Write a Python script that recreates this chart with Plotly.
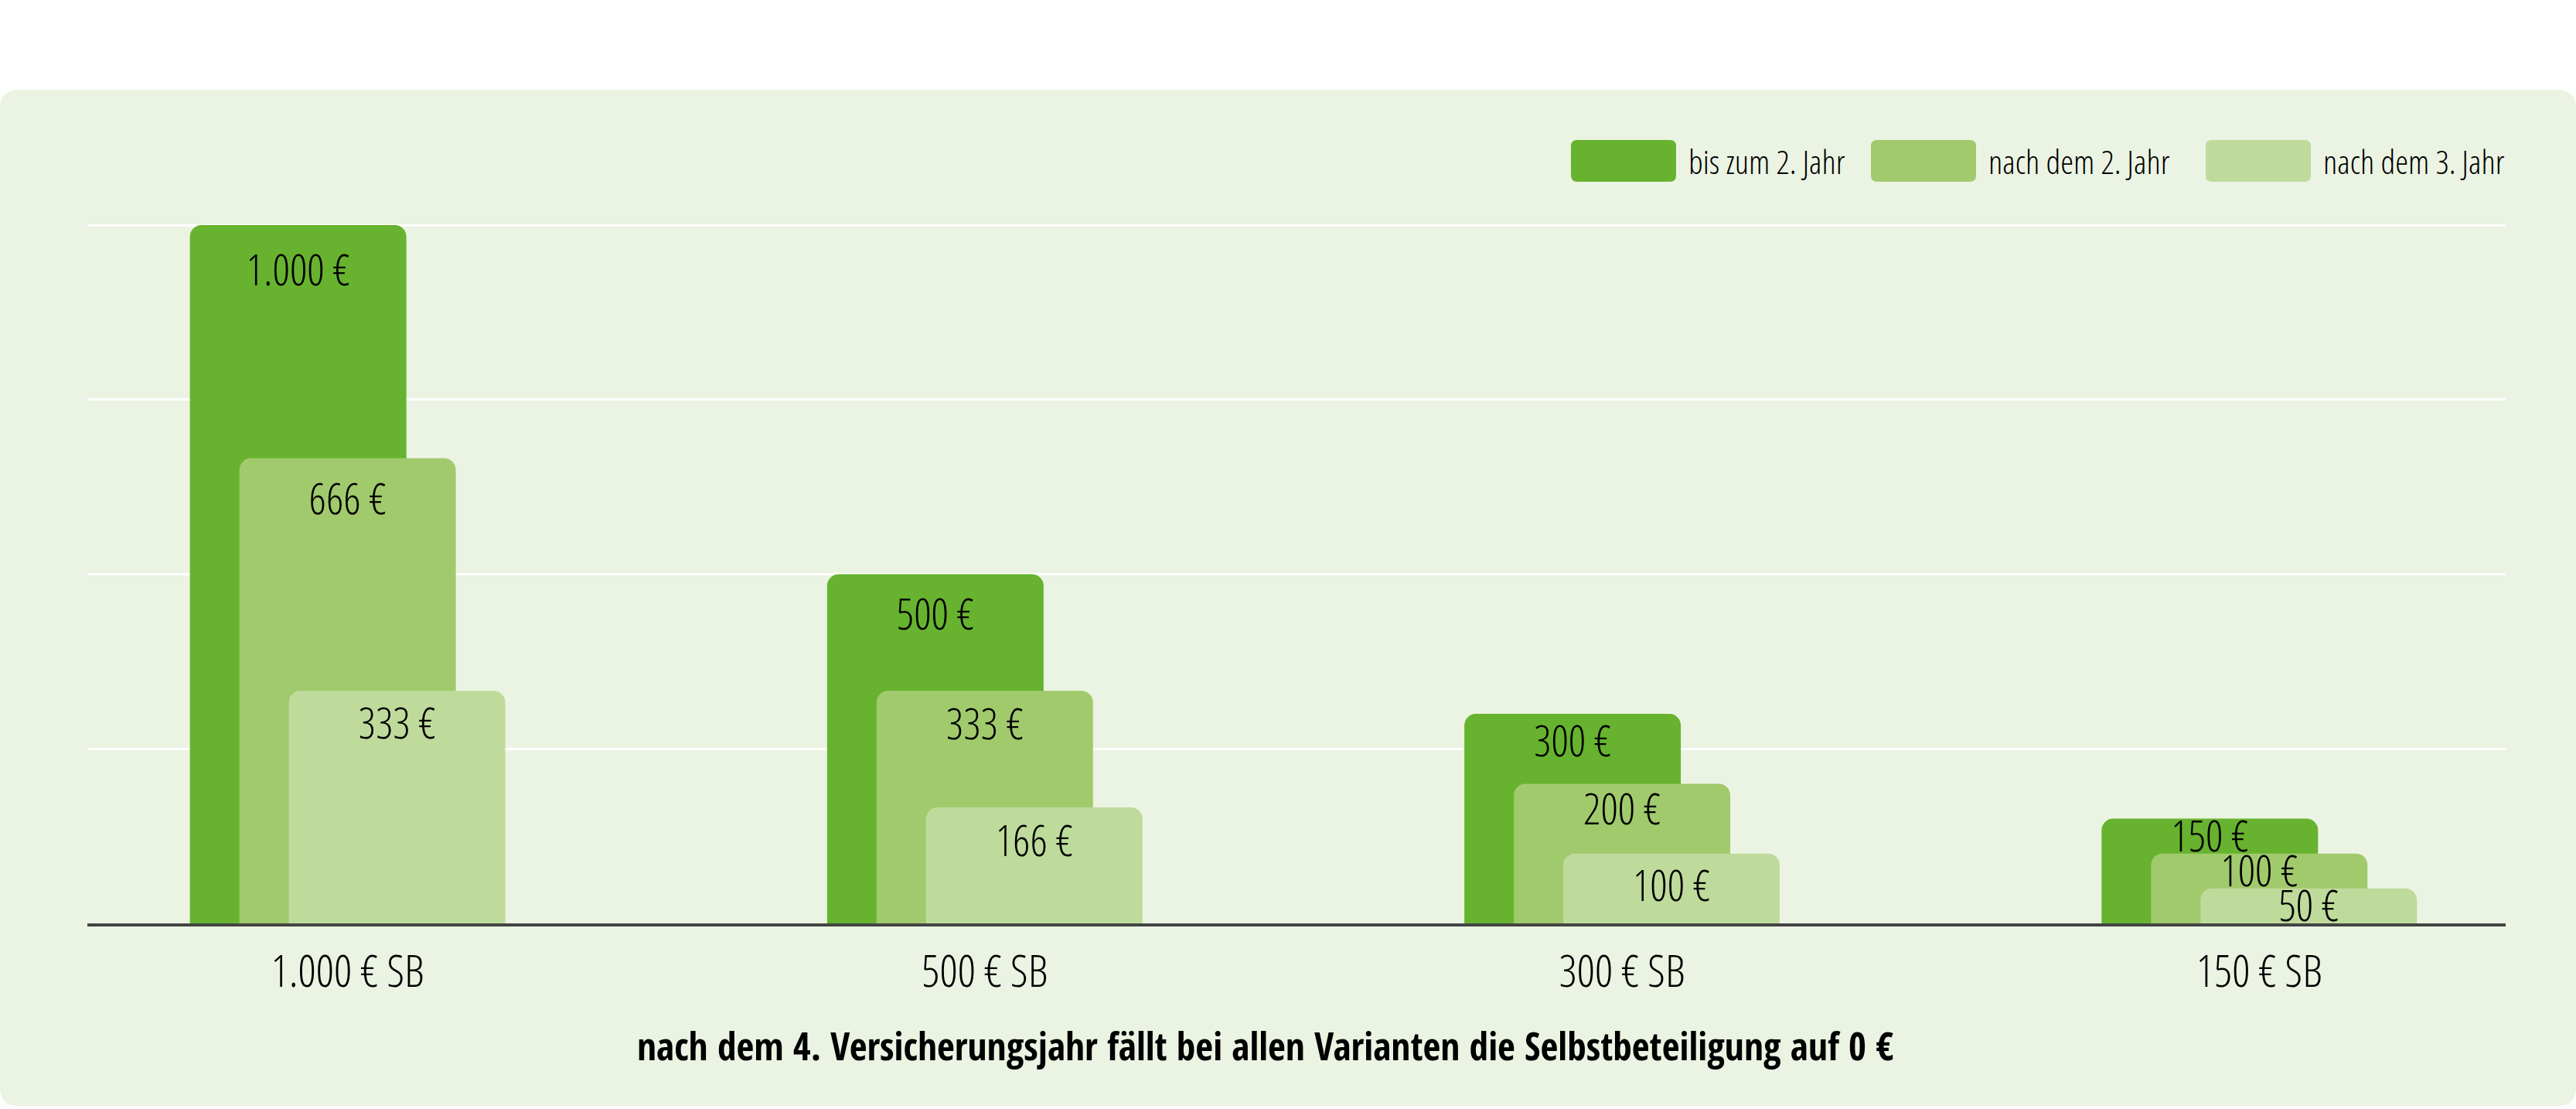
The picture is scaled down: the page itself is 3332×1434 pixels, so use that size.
import plotly.graph_objects as go

# ---------------- data ----------------
categories = ["1.000 € SB", "500 € SB", "300 € SB", "150 € SB"]
series_names = ["bis zum 2. Jahr", "nach dem 2. Jahr", "nach dem 3. Jahr"]
values_bis_2_jahr = [1000, 500, 300, 150]
values_nach_2_jahr = [666, 333, 200, 100]
values_nach_3_jahr = [333, 166, 100, 50]
footnote = "nach dem 4. Versicherungsjahr fällt bei allen Varianten die Selbstbeteiligung auf 0 €"

series_values = [values_bis_2_jahr, values_nach_2_jahr, values_nach_3_jahr]

# ---------------- style / layout ----------------
W, H = 3332, 1434
PLOT_L, PLOT_R = 113, 3241
PLOT_T, PLOT_B = 282, 1194
Y_MAX = 1010
X_RANGE = [-0.4084, 3.3866]
BAR_W = 0.3397
STEP = 0.0776
FIRST_OFFSET = -0.2475
COLORS = ["#67b32f", "#a1ca6d", "#bedb9c"]
PANEL = "#ebf4e3"
FONT_LIGHT = "Open Sans Condensed Light, Roboto Condensed, sans-serif"
FONT_BOLD = "Open Sans Condensed, Roboto Condensed, sans-serif"
LABEL_FS = 56
TICK_FS = 58
LEGEND_FS = 43
FOOT_FS = 49.5
# how far (px) each value label sits below the top of its bar
LABEL_DROP_PX = [[38, 31, 15, 1], [32, 23, 13, 1], [22, 23, 21, 3]]


def fmt_eur(v):
    return f"{v:,}".replace(",", ".") + " €"


def pxx(px):
    return (px - PLOT_L) / (PLOT_R - PLOT_L)


def pxy(py):
    return (PLOT_B - py) / (PLOT_B - PLOT_T)


def rrect(x0, y0, x1, y1, r):
    """rounded rectangle path (pixel coords, y down) in paper coordinates"""
    pts = [
        ("M", [(x0 + r, y0)]),
        ("L", [(x1 - r, y0)]),
        ("Q", [(x1, y0), (x1, y0 + r)]),
        ("L", [(x1, y1 - r)]),
        ("Q", [(x1, y1), (x1 - r, y1)]),
        ("L", [(x0 + r, y1)]),
        ("Q", [(x0, y1), (x0, y1 - r)]),
        ("L", [(x0, y0 + r)]),
        ("Q", [(x0, y0), (x0 + r, y0)]),
    ]
    s = ""
    for cmd, ps in pts:
        s += cmd + " ".join(f"{pxx(a):.6f},{pxy(b):.6f}" for a, b in ps) + " "
    return s + "Z"


fig = go.Figure()
idx = list(range(len(categories)))

for k, (name, vals) in enumerate(zip(series_names, series_values)):
    off = FIRST_OFFSET + k * STEP
    fig.add_trace(go.Bar(
        x=idx, y=vals, name=name, width=BAR_W, offset=off,
        marker=dict(color=COLORS[k], cornerradius=15, line=dict(width=0)),
        showlegend=False, hoverinfo="skip",
    ))

for k, vals in enumerate(series_values):
    off = FIRST_OFFSET + k * STEP
    sizes = []
    for d in LABEL_DROP_PX[k]:
        r = d - 2
        sizes.append(max(0.0, 1.6 * (r - 1)) if r > 2 else 0)
    fig.add_trace(go.Scatter(
        x=[i + off + BAR_W / 2 for i in idx], y=vals,
        mode="markers+text", text=[fmt_eur(v) for v in vals],
        textposition="bottom center",
        textfont=dict(family=FONT_LIGHT, size=LABEL_FS, color="#000000"),
        marker=dict(size=sizes, opacity=0),
        showlegend=False, hoverinfo="skip", cliponaxis=False,
    ))

shapes = [dict(type="path", xref="paper", yref="paper", path=rrect(0, 116, W, 1430, 24),
               fillcolor=PANEL, line=dict(width=0), layer="below")]

annotations = []
legend_swatch_x = [2032, 2420, 2853]
for k, name in enumerate(series_names):
    x0 = legend_swatch_x[k]
    shapes.append(dict(type="path", xref="paper", yref="paper",
                       path=rrect(x0, 181, x0 + 136, 235, 8),
                       fillcolor=COLORS[k], line=dict(width=0), layer="below"))
    annotations.append(dict(xref="paper", yref="paper", x=pxx(x0 + 150), y=pxy(209),
                            xanchor="left", yanchor="middle", showarrow=False, text=name,
                            font=dict(family=FONT_LIGHT, size=LEGEND_FS, color="#000000")))

annotations.append(dict(xref="paper", yref="paper", x=pxx(1636), y=pxy(1352),
                        xanchor="center", yanchor="middle", showarrow=False,
                        text=footnote,
                        font=dict(family=FONT_BOLD, size=FOOT_FS, color="#000000", weight=700)))

fig.update_layout(
    width=W, height=H, autosize=False,
    margin=dict(l=PLOT_L, r=W - PLOT_R, t=PLOT_T, b=H - PLOT_B, pad=0),
    paper_bgcolor="#ffffff", plot_bgcolor="rgba(0,0,0,0)",
    barmode="overlay", hovermode=False,
    shapes=shapes, annotations=annotations,
    font=dict(family=FONT_LIGHT, color="#000000"),
    xaxis=dict(range=X_RANGE, tickvals=idx, ticktext=categories, showgrid=False,
               zeroline=False, showline=True, linecolor="#444444", linewidth=4,
               ticks="", tickfont=dict(family=FONT_LIGHT, size=TICK_FS, color="#000000"),
               ticklabelstandoff=8, fixedrange=True),
    yaxis=dict(range=[0, Y_MAX], tickvals=[250, 500, 750, 1000], showticklabels=False,
               showgrid=True, gridcolor="#ffffff", gridwidth=3, zeroline=False,
               showline=False, ticks="", fixedrange=True),
)

fig.write_html("out.html", config={"displayModeBar": False},
               post_script="document.body.style.margin='0';document.body.style.overflow='hidden';")
